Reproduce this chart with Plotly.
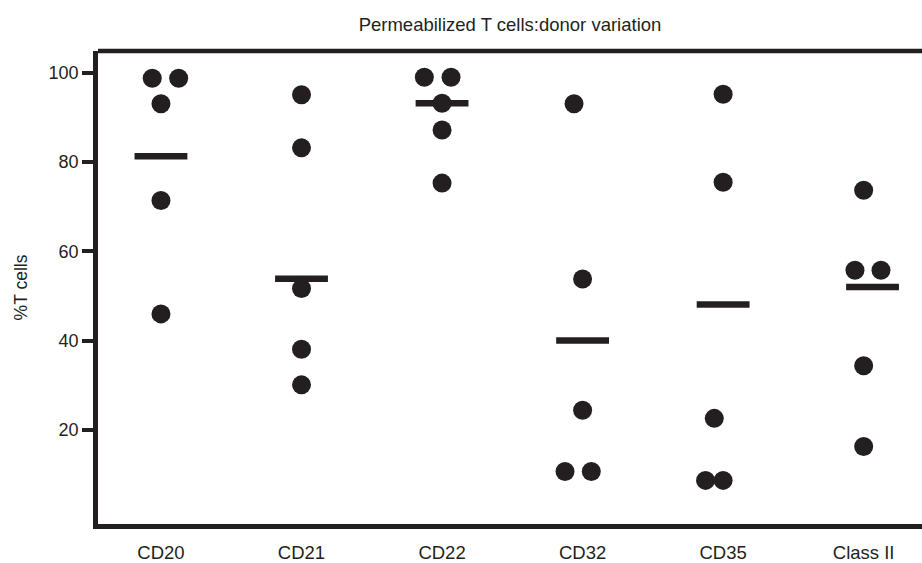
import plotly.graph_objects as go

categories = ["CD20", "CD21", "CD22", "CD32", "CD35", "Class II"]

# individual donor values (% T cells)
cd20 = [98.8, 98.8, 93.1, 71.4, 46.0]
cd21 = [95.1, 83.2, 51.7, 38.1, 30.1]
cd22 = [99.0, 99.0, 93.2, 87.2, 75.3]
cd32 = [93.1, 53.8, 24.4, 10.7, 10.7]
cd35 = [95.2, 75.5, 22.6, 8.7, 8.7]
class2 = [73.7, 55.8, 55.8, 34.4, 16.3]

# horizontal jitter of the dots (category units), as drawn in the original
cd20_jit = [-0.062, 0.126, 0.0, 0.0, 0.0]
cd21_jit = [0.0, 0.0, 0.0, 0.0, 0.0]
cd22_jit = [-0.126, 0.064, 0.0, 0.0, 0.0]
cd32_jit = [-0.061, 0.0, 0.0, -0.125, 0.062]
cd35_jit = [0.0, 0.0, -0.063, -0.125, 0.0]
class2_jit = [0.0, -0.062, 0.123, 0.0, 0.0]

# group summary bars
bar_values = [81.3, 53.9, 93.2, 40.05, 48.1, 52.0]
bar_jit = [0.0, 0.0, 0.0, 0.0, 0.0, 0.063]

y_ticks = [20, 40, 60, 80, 100]

series = [cd20, cd21, cd22, cd32, cd35, class2]
jitters = [cd20_jit, cd21_jit, cd22_jit, cd32_jit, cd35_jit, class2_jit]

INK = "#231f20"
FONT = "Liberation Sans, Arial, Helvetica, sans-serif"

dx, dy = [], []
for i, (vals, jit) in enumerate(zip(series, jitters)):
    for v, j in zip(vals, jit):
        dx.append(i + j)
        dy.append(v)

half = 0.188
bx, by = [], []
for i, (v, j) in enumerate(zip(bar_values, bar_jit)):
    bx += [i + j - half, i + j + half, None]
    by += [v, v, None]

fig = go.Figure()
fig.add_trace(go.Scatter(x=bx, y=by, mode="lines",
                         line=dict(color=INK, width=6.5), hoverinfo="skip",
                         showlegend=False))
fig.add_trace(go.Scatter(x=dx, y=dy, mode="markers",
                         marker=dict(color=INK, size=19, line=dict(width=0)),
                         showlegend=False))

W, H = 922, 563
fig.update_layout(
    width=W, height=H,
    margin=dict(l=98, r=0, t=51, b=31),
    paper_bgcolor="white", plot_bgcolor="white",
    font=dict(family=FONT, color=INK, size=18),
    title=dict(text="Permeabilized T cells:donor variation", x=0.5,
               xanchor="center", xref="paper", y=1 - 25 / H, yanchor="middle",
               font=dict(size=18.5, color=INK, family=FONT)),
    xaxis=dict(range=[-0.448, 5.415], tickmode="array",
               tickvals=list(range(len(categories))), ticktext=categories,
               showgrid=False, zeroline=False, showline=True,
               linecolor=INK, linewidth=4.5, ticks="outside", ticklen=8,
               tickcolor="rgba(0,0,0,0)", tickfont=dict(size=18.5)),
    yaxis=dict(range=[-1.07, 104.9], tickmode="array", tickvals=y_ticks,
               showgrid=False, zeroline=False, showline=True,
               linecolor=INK, linewidth=4.5, ticks="outside", ticklen=11,
               tickwidth=4, tickcolor=INK, tickfont=dict(size=18),
               title=dict(text="%T cells", font=dict(size=17.5), standoff=18)),
    shapes=[dict(type="line", xref="paper", yref="paper", x0=0, x1=1, y0=1, y1=1,
                 line=dict(color=INK, width=4.5))],
)

fig.write_html(
    "out.html",
    config={"displayModeBar": False},
    post_script="document.body.style.margin='0';document.body.style.overflow='hidden';",
)
